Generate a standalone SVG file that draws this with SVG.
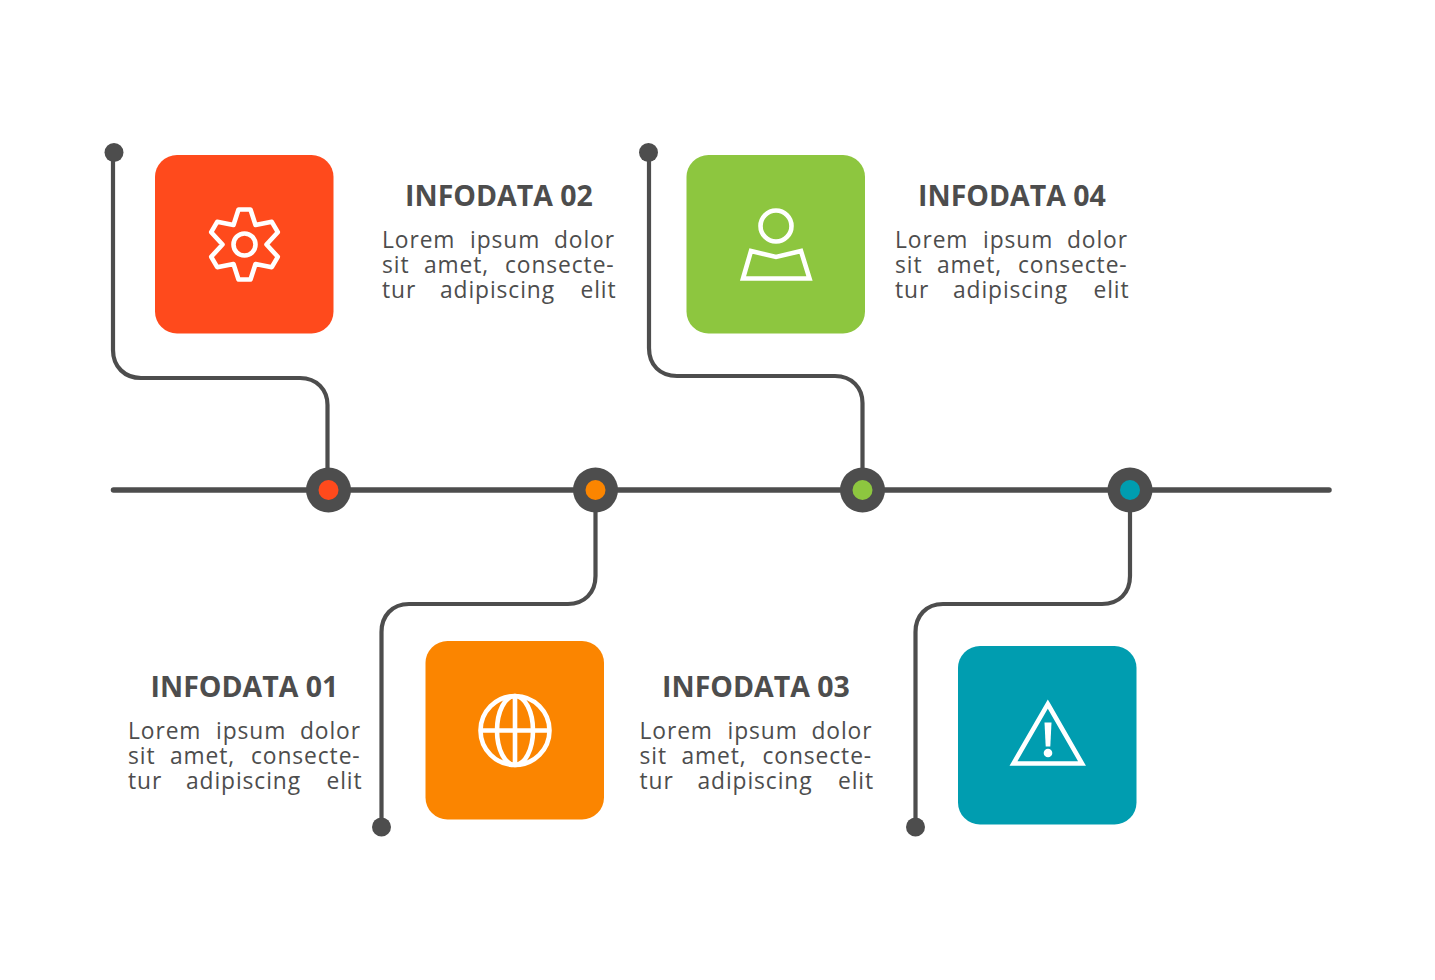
<svg xmlns="http://www.w3.org/2000/svg" width="1435" height="980" viewBox="0 0 1435 980">
<style>
.conn{fill:none;stroke:#4d4d4d;stroke-width:4.200;stroke-linecap:round}
.main{fill:none;stroke:#4d4d4d;stroke-width:5.500;stroke-linecap:round}
.hub,.dot{fill:#4d4d4d}
.ico{fill:none;stroke:#fff;stroke-width:4.600;stroke-linejoin:miter}
.title{font-family:"Open Sans",sans-serif;font-weight:700;font-size:28.500px;fill:#4d4d4d;text-anchor:middle}
.body{font-family:"Open Sans",sans-serif;font-size:22.800px;fill:#4d4d4d;letter-spacing:.9px}
</style>
<rect width="1435" height="980" fill="#fff"/>
<g id="connectors">
<path class="main" d="M113.500 490H1329"/>
<path class="conn" d="M113 152V350C113 367 125 378 141 378H300C317 378 327.500 390 327.500 405V480"/>
<path class="conn" d="M649 152V348C649 365 660 376 677 376H835C852 376 862.500 388 862.500 403V480"/>
<path class="conn" d="M595.500 500V576C595.500 593 584 604 568 604H409C392 604 381.500 616 381.500 632V827"/>
<path class="conn" d="M1130 500V576C1130 593 1119 604 1102 604H943C926 604 915.500 616 915.500 632V827"/>
<circle class="dot" cx="114" cy="152.500" r="9.500"/>
<circle class="dot" cx="648.500" cy="152.500" r="9.500"/>
<circle class="dot" cx="381.500" cy="827" r="9.500"/>
<circle class="dot" cx="915.500" cy="827" r="9.500"/>
</g>
<g id="hub-1"><circle class="hub" cx="328.500" cy="490" r="22.500"/><circle cx="328.500" cy="490" r="10" fill="#ff4a1c"/></g>
<g id="hub-2"><circle class="hub" cx="595.500" cy="490" r="22.500"/><circle cx="595.500" cy="490" r="10" fill="#fb8500"/></g>
<g id="hub-3"><circle class="hub" cx="862.500" cy="490" r="22.500"/><circle cx="862.500" cy="490" r="10" fill="#8dc63f"/></g>
<g id="hub-4"><circle class="hub" cx="1130" cy="490" r="22.500"/><circle cx="1130" cy="490" r="10" fill="#009db0"/></g>
<g id="card-02">
<rect x="155" y="155" width="178.500" height="178.500" rx="22" fill="#ff4a1c"/>
<g transform="translate(244.500 244.500)" class="ico">
<path d="M-6-35H6L11-19.500 27.300-22.700 33.300-12.300 22 0 33.300 12.300 27.300 22.700 11 19.500 6 35H-6L-11 19.500-27.300 22.700-33.300 12.300-22 0-33.300-12.300-27.300-22.700-11-19.500Z" stroke-linejoin="round"/>
<circle r="11"/>
</g>
</g>
<g id="card-04">
<rect x="686.500" y="155" width="178.500" height="178.500" rx="22" fill="#8dc63f"/>
<g class="ico">
<circle cx="776" cy="226" r="15.500"/>
<path d="M751 251L776 257 801 251 809.500 278.500H743Z"/>
</g>
</g>
<g id="card-01">
<rect x="425.500" y="641" width="178.500" height="178.500" rx="22" fill="#fb8500"/>
<g class="ico">
<circle cx="515" cy="730.500" r="34.500"/>
<ellipse cx="515" cy="730.500" rx="18" ry="34.500"/>
<path d="M515 696V765M480.500 730.500H549.500"/>
</g>
</g>
<g id="card-03">
<rect x="958" y="646" width="178.500" height="178.500" rx="22" fill="#009db0"/>
<path class="ico" d="M1047.800 704L1082 763.500H1013.500Z"/>
<path d="M1044.500 722.500H1051.500L1050.300 746.500H1045.700Z" fill="#fff"/>
<circle cx="1048" cy="753" r="4.300" fill="#fff"/>
</g>
<g id="text-02">
<text class="title" x="499" y="206">INFODATA 02</text>
<text class="body" y="247.500"><tspan x="382">Lorem</tspan><tspan x="470">ipsum</tspan><tspan x="554">dolor</tspan></text>
<text class="body" y="272.500"><tspan x="382">sit</tspan><tspan x="424">amet,</tspan><tspan x="505">consecte-</tspan></text>
<text class="body" y="297.500"><tspan x="382">tur</tspan><tspan x="440">adipiscing</tspan><tspan x="580.500">elit</tspan></text>
</g>
<g id="text-04">
<text class="title" x="1012" y="206">INFODATA 04</text>
<text class="body" y="247.500"><tspan x="895">Lorem</tspan><tspan x="983">ipsum</tspan><tspan x="1067">dolor</tspan></text>
<text class="body" y="272.500"><tspan x="895">sit</tspan><tspan x="937">amet,</tspan><tspan x="1018">consecte-</tspan></text>
<text class="body" y="297.500"><tspan x="895">tur</tspan><tspan x="953">adipiscing</tspan><tspan x="1093.500">elit</tspan></text>
</g>
<g id="text-01">
<text class="title" x="244.500" y="697">INFODATA 01</text>
<text class="body" y="738.500"><tspan x="128">Lorem</tspan><tspan x="216">ipsum</tspan><tspan x="300">dolor</tspan></text>
<text class="body" y="763.500"><tspan x="128">sit</tspan><tspan x="170">amet,</tspan><tspan x="251">consecte-</tspan></text>
<text class="body" y="788.500"><tspan x="128">tur</tspan><tspan x="186">adipiscing</tspan><tspan x="326.500">elit</tspan></text>
</g>
<g id="text-03">
<text class="title" x="756" y="697">INFODATA 03</text>
<text class="body" y="738.500"><tspan x="639.500">Lorem</tspan><tspan x="727.500">ipsum</tspan><tspan x="811.500">dolor</tspan></text>
<text class="body" y="763.500"><tspan x="639.500">sit</tspan><tspan x="681.500">amet,</tspan><tspan x="762.500">consecte-</tspan></text>
<text class="body" y="788.500"><tspan x="639.500">tur</tspan><tspan x="697.500">adipiscing</tspan><tspan x="838">elit</tspan></text>
</g>
</svg>
